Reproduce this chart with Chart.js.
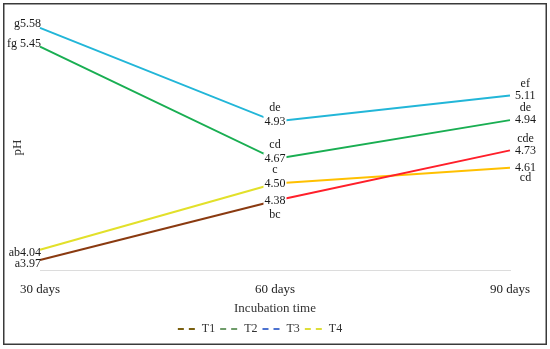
<!DOCTYPE html>
<html>
<head>
<meta charset="utf-8">
<script src="https://cdn.jsdelivr.net/npm/chart.js@4"></script>
<style>
  html, body { margin: 0; padding: 0; background: #fff; }
  #wrap { width: 550px; height: 349px; position: relative; }
</style>
</head>
<body>
<div id="wrap"><canvas id="ph-chart"></canvas></div>
<script>
// data
const days = ['30 days', '60 days', '90 days'];
const seriesNames = ['T1', 'T2', 'T3', 'T4'];
const t1 = [3.97, 4.38, 4.73];
const t2 = [5.45, 4.67, 4.94];
const t3 = [5.58, 4.93, 5.11];
const t4 = [4.04, 4.50, 4.61];
const t1Letters = ['a', 'bc', 'cde'];
const t2Letters = ['fg ', 'cd', 'de'];
const t3Letters = ['g', 'de', 'ef'];
const t4Letters = ['ab', 'c', 'cd'];

const letters = [t1Letters, t2Letters, t3Letters, t4Letters];
// line colours per segment (first: 30->60, second: 60->90)
const segColors = [['#8a3a10', '#ff1f2a'], ['#19ae52', '#19ae52'], ['#22b6d8', '#22b6d8'], ['#e2e02a', '#ffc000']];
const legendColors = ['#7a6010', '#6f9c6a', '#4d72d0', '#dede3a'];
// label placement: 30-day vertical nudge, whether letter sits below the value
const dy30 = [4, -3, -4, 3];
const letterBelow = [[false, true, false], [false, false, false], [false, false, false], [false, false, true]];

const FONT = '"Liberation Serif", "Times New Roman", serif';

const labelPlugin = {
  id: 'sigLabels',
  afterDatasetsDraw(chart) {
    const c = chart.ctx;
    c.save();
    c.font = '12px ' + FONT;
    c.fillStyle = '#1a1a1a';
    c.textBaseline = 'middle';
    chart.data.datasets.forEach((ds, d) => {
      const meta = chart.getDatasetMeta(d);
      meta.data.forEach((pt, i) => {
        const val = ds.data[i].toFixed(2);
        const let_ = letters[d][i];
        if (i === 0) {
          c.textAlign = 'right';
          c.fillText(let_ + val, pt.x + 1, pt.y + dy30[d]);
        } else if (i === 1) {
          const w = c.measureText(val).width;
          c.fillStyle = '#fff';
          c.fillRect(pt.x - w / 2 - 1, pt.y - 6, w + 2, 12);
          c.fillStyle = '#1a1a1a';
          c.textAlign = 'center';
          c.fillText(val, pt.x, pt.y);
          c.fillText(let_, pt.x, pt.y + (letterBelow[d][i] ? 14 : -14));
        } else {
          const w = c.measureText(val).width;
          c.textAlign = 'left';
          c.fillText(val, pt.x + 5, pt.y);
          c.textAlign = 'center';
          c.fillText(let_, pt.x + 5 + w / 2, pt.y + (letterBelow[d][i] ? 10 : -12));
        }
      });
    });
    c.restore();
  },
  afterDraw(chart) {
    const c = chart.ctx;
    c.save();
    c.strokeStyle = '#3a3a3a'; c.lineWidth = 1.5;
    c.strokeRect(3.75, 3.75, 542.5, 340.5);
    c.restore();
  }
};

const allSeries = [t1, t2, t3, t4];
const datasets = allSeries.map((vals, d) => ({
  label: seriesNames[d],
  data: vals,
  borderColor: segColors[d][0],
  backgroundColor: segColors[d][0],
  borderWidth: 2,
  pointRadius: 0,
  tension: 0,
  segment: { borderColor: s => segColors[d][s.p0DataIndex] }
}));

new Chart(document.getElementById('ph-chart'), {
  type: 'line',
  data: { labels: days, datasets },
  options: {
    responsive: true, maintainAspectRatio: false, animation: false,
    layout: { padding: { left: 10, right: 40, top: 25, bottom: 4 } },
    plugins: {
      tooltip: { enabled: false },
      legend: {
        position: 'bottom',
        labels: {
          color: '#333', font: { family: FONT, size: 12 },
          usePointStyle: true, pointStyleWidth: 18, boxHeight: 12, padding: 5,
          generateLabels: ch => ch.data.datasets.map((ds, d) => ({
            text: ds.label, datasetIndex: d, pointStyle: 'line',
            strokeStyle: legendColors[d], fillStyle: legendColors[d],
            lineWidth: 2, lineDash: [6, 5], fontColor: '#333'
          }))
        }
      }
    },
    scales: {
      x: {
        grid: { display: false },
        border: { display: true, color: '#dcdcdc', width: 1 },
        ticks: { color: '#222', font: { family: FONT, size: 13 }, padding: 4, maxRotation: 0 },
        title: { display: true, text: 'Incubation time', color: '#333', font: { family: FONT, size: 13 }, padding: { top: 2, bottom: 2 } },
        afterFit: s => { s.height = 48; }
      },
      y: {
        min: 3.9, max: 5.6,
        grid: { display: false },
        border: { display: false },
        ticks: { display: false },
        title: { display: true, text: 'pH', color: '#333', font: { family: FONT, size: 13 }, padding: 0 },
        afterFit: s => { s.width = 30; }
      }
    }
  },
  plugins: [labelPlugin]
});
</script>
</body>
</html>
